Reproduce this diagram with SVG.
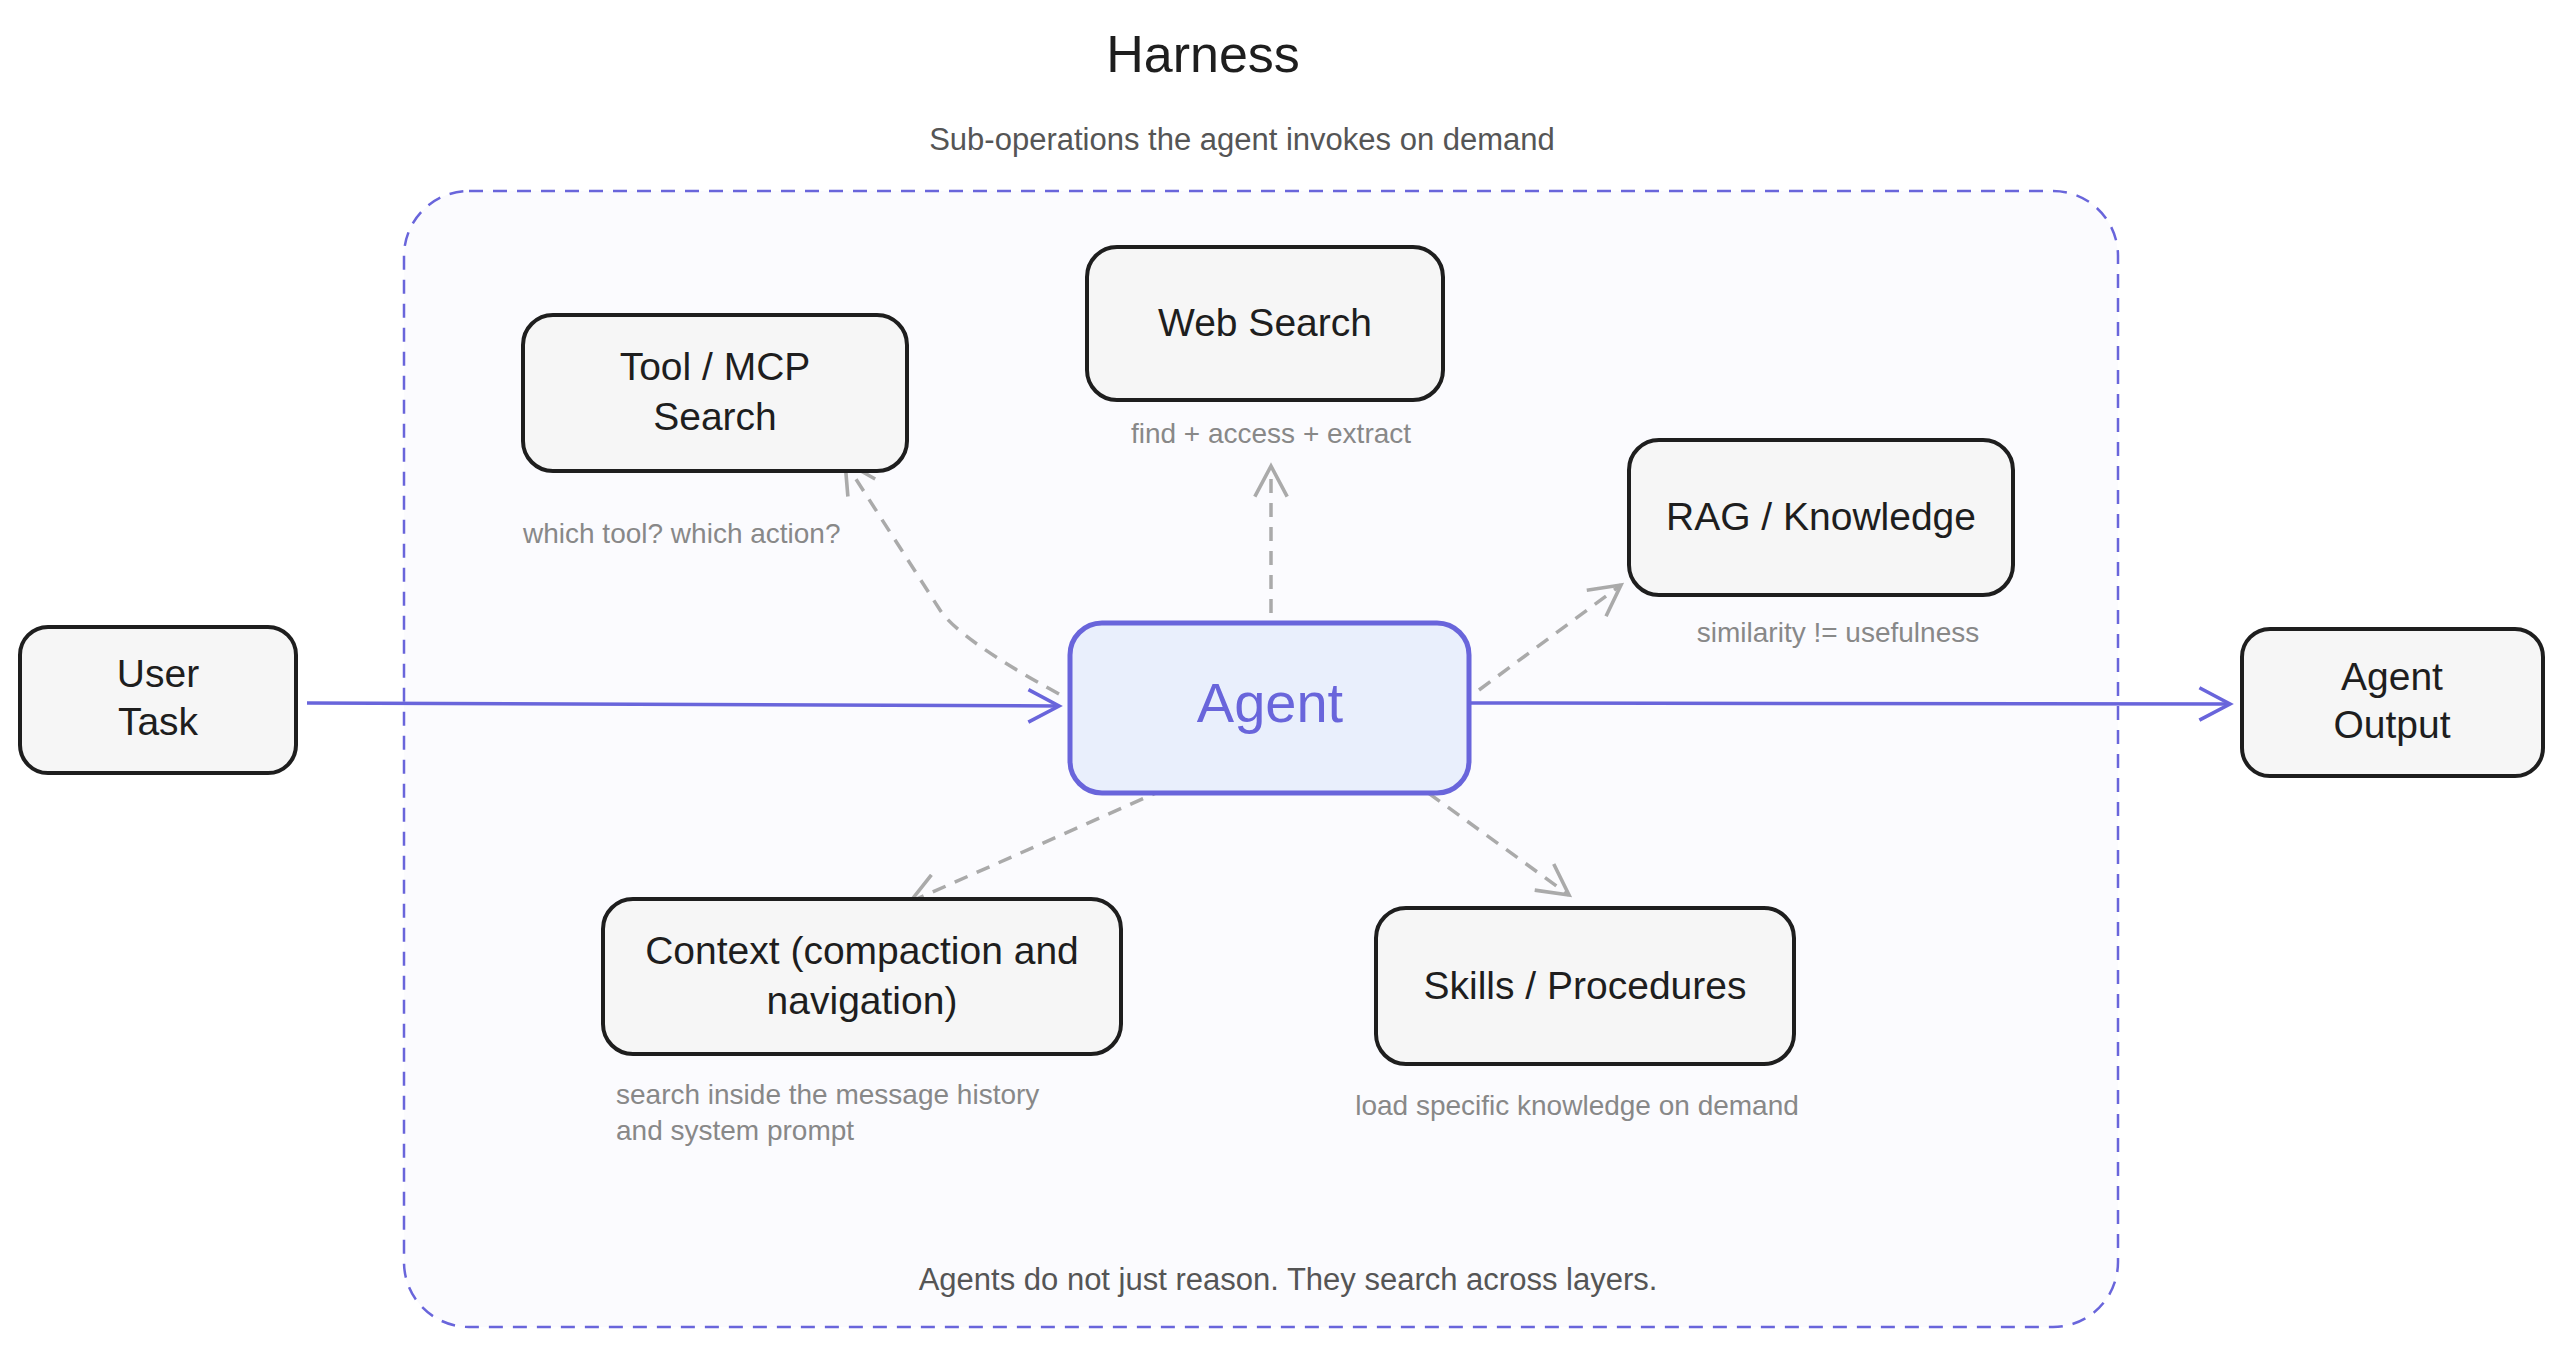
<svg xmlns="http://www.w3.org/2000/svg" width="2562" height="1346" viewBox="0 0 2562 1346">
<style>
.n{fill:#f6f6f6;stroke:#1e1e1e;stroke-width:4}
.t{font-family:"Liberation Sans",Arial,sans-serif;font-size:39px;fill:#1e1e1e;text-anchor:middle}
.c{font-family:"Liberation Sans",Arial,sans-serif;font-size:28px;fill:#888;}
.d{fill:none;stroke:#aaa;stroke-width:3.5;stroke-dasharray:14 10}
.s{fill:none;stroke:#6965db;stroke-width:3.5}
</style>
<defs>
<marker id="ag" viewBox="0 0 20 20" refX="18" refY="10" markerWidth="36" markerHeight="36" markerUnits="userSpaceOnUse" orient="auto"><path d="M1,1 L18,10 L1,19" fill="none" stroke="#aaa" stroke-width="2"/></marker>
<marker id="ab" viewBox="0 0 20 20" refX="18" refY="10" markerWidth="36" markerHeight="36" markerUnits="userSpaceOnUse" orient="auto"><path d="M1,1 L18,10 L1,19" fill="none" stroke="#6965db" stroke-width="2"/></marker>
</defs>
<rect width="2562" height="1346" fill="#fff"/>
<text x="1203" y="72" font-family="Liberation Sans,Arial,sans-serif" font-size="52" fill="#1e1e1e" text-anchor="middle">Harness</text>
<text x="1242" y="150" font-family="Liberation Sans,Arial,sans-serif" font-size="31" fill="#555" text-anchor="middle">Sub-operations the agent invokes on demand</text>
<g id="harness"><rect x="404" y="191" width="1714" height="1136" rx="65" fill="#fbfbfe" stroke="#6965db" stroke-width="2.5" stroke-dasharray="14 10"/>
<text x="1288" y="1290" font-family="Liberation Sans,Arial,sans-serif" font-size="31" fill="#555" text-anchor="middle">Agents do not just reason. They search across layers.</text></g>
<g id="connectors">
<path class="s" d="M307,703 L1059,706" marker-end="url(#ab)"/>
<path class="s" d="M1469,703 L2230,704" marker-end="url(#ab)"/>
<path class="d" d="M1059,694 Q960,640 940,610 L845,462" marker-end="url(#ag)"/>
<path class="d" d="M1271,613 L1271,466" marker-end="url(#ag)"/>
<path class="d" d="M1479,690 L1621,585" marker-end="url(#ag)"/>
<path class="d" d="M1165,789 L910,902" marker-end="url(#ag)"/>
<path class="d" d="M1409,779 L1569,895" marker-end="url(#ag)"/>
</g>
<g id="user"><rect class="n" x="20" y="627" width="276" height="146" rx="28"/><text class="t" x="158" y="687">User</text><text class="t" x="158" y="735">Task</text></g>
<g id="tool"><rect class="n" x="523" y="315" width="384" height="156" rx="30"/><text class="t" x="715" y="380">Tool / MCP</text><text class="t" x="715" y="430">Search</text>
<text class="c" x="523" y="543">which tool? which action?</text></g>
<g id="web"><rect class="n" x="1087" y="247" width="356" height="153" rx="30"/><text class="t" x="1265" y="336">Web Search</text>
<text class="c" x="1271" y="443" text-anchor="middle">find + access + extract</text></g>
<g id="rag"><rect class="n" x="1629" y="440" width="384" height="155" rx="30"/><text class="t" x="1821" y="530">RAG / Knowledge</text>
<text class="c" x="1838" y="642" text-anchor="middle">similarity != usefulness</text></g>
<g id="agent"><rect x="1070" y="623" width="399" height="170" rx="32" fill="#e9effc" stroke="#6965db" stroke-width="5"/><text x="1270" y="722" font-family="Liberation Sans,Arial,sans-serif" font-size="56" fill="#6965db" text-anchor="middle">Agent</text></g>
<g id="output"><rect class="n" x="2242" y="629" width="301" height="147" rx="28"/><text class="t" x="2392" y="690">Agent</text><text class="t" x="2392" y="738">Output</text></g>
<g id="context"><rect class="n" x="603" y="899" width="518" height="155" rx="30"/><text class="t" x="862" y="964">Context (compaction and</text><text class="t" x="862" y="1014">navigation)</text>
<text class="c" x="616" y="1104">search inside the message history</text><text class="c" x="616" y="1140">and system prompt</text></g>
<g id="skills"><rect class="n" x="1376" y="908" width="418" height="156" rx="30"/><text class="t" x="1585" y="999">Skills / Procedures</text>
<text class="c" x="1577" y="1115" text-anchor="middle">load specific knowledge on demand</text></g>
</svg>
